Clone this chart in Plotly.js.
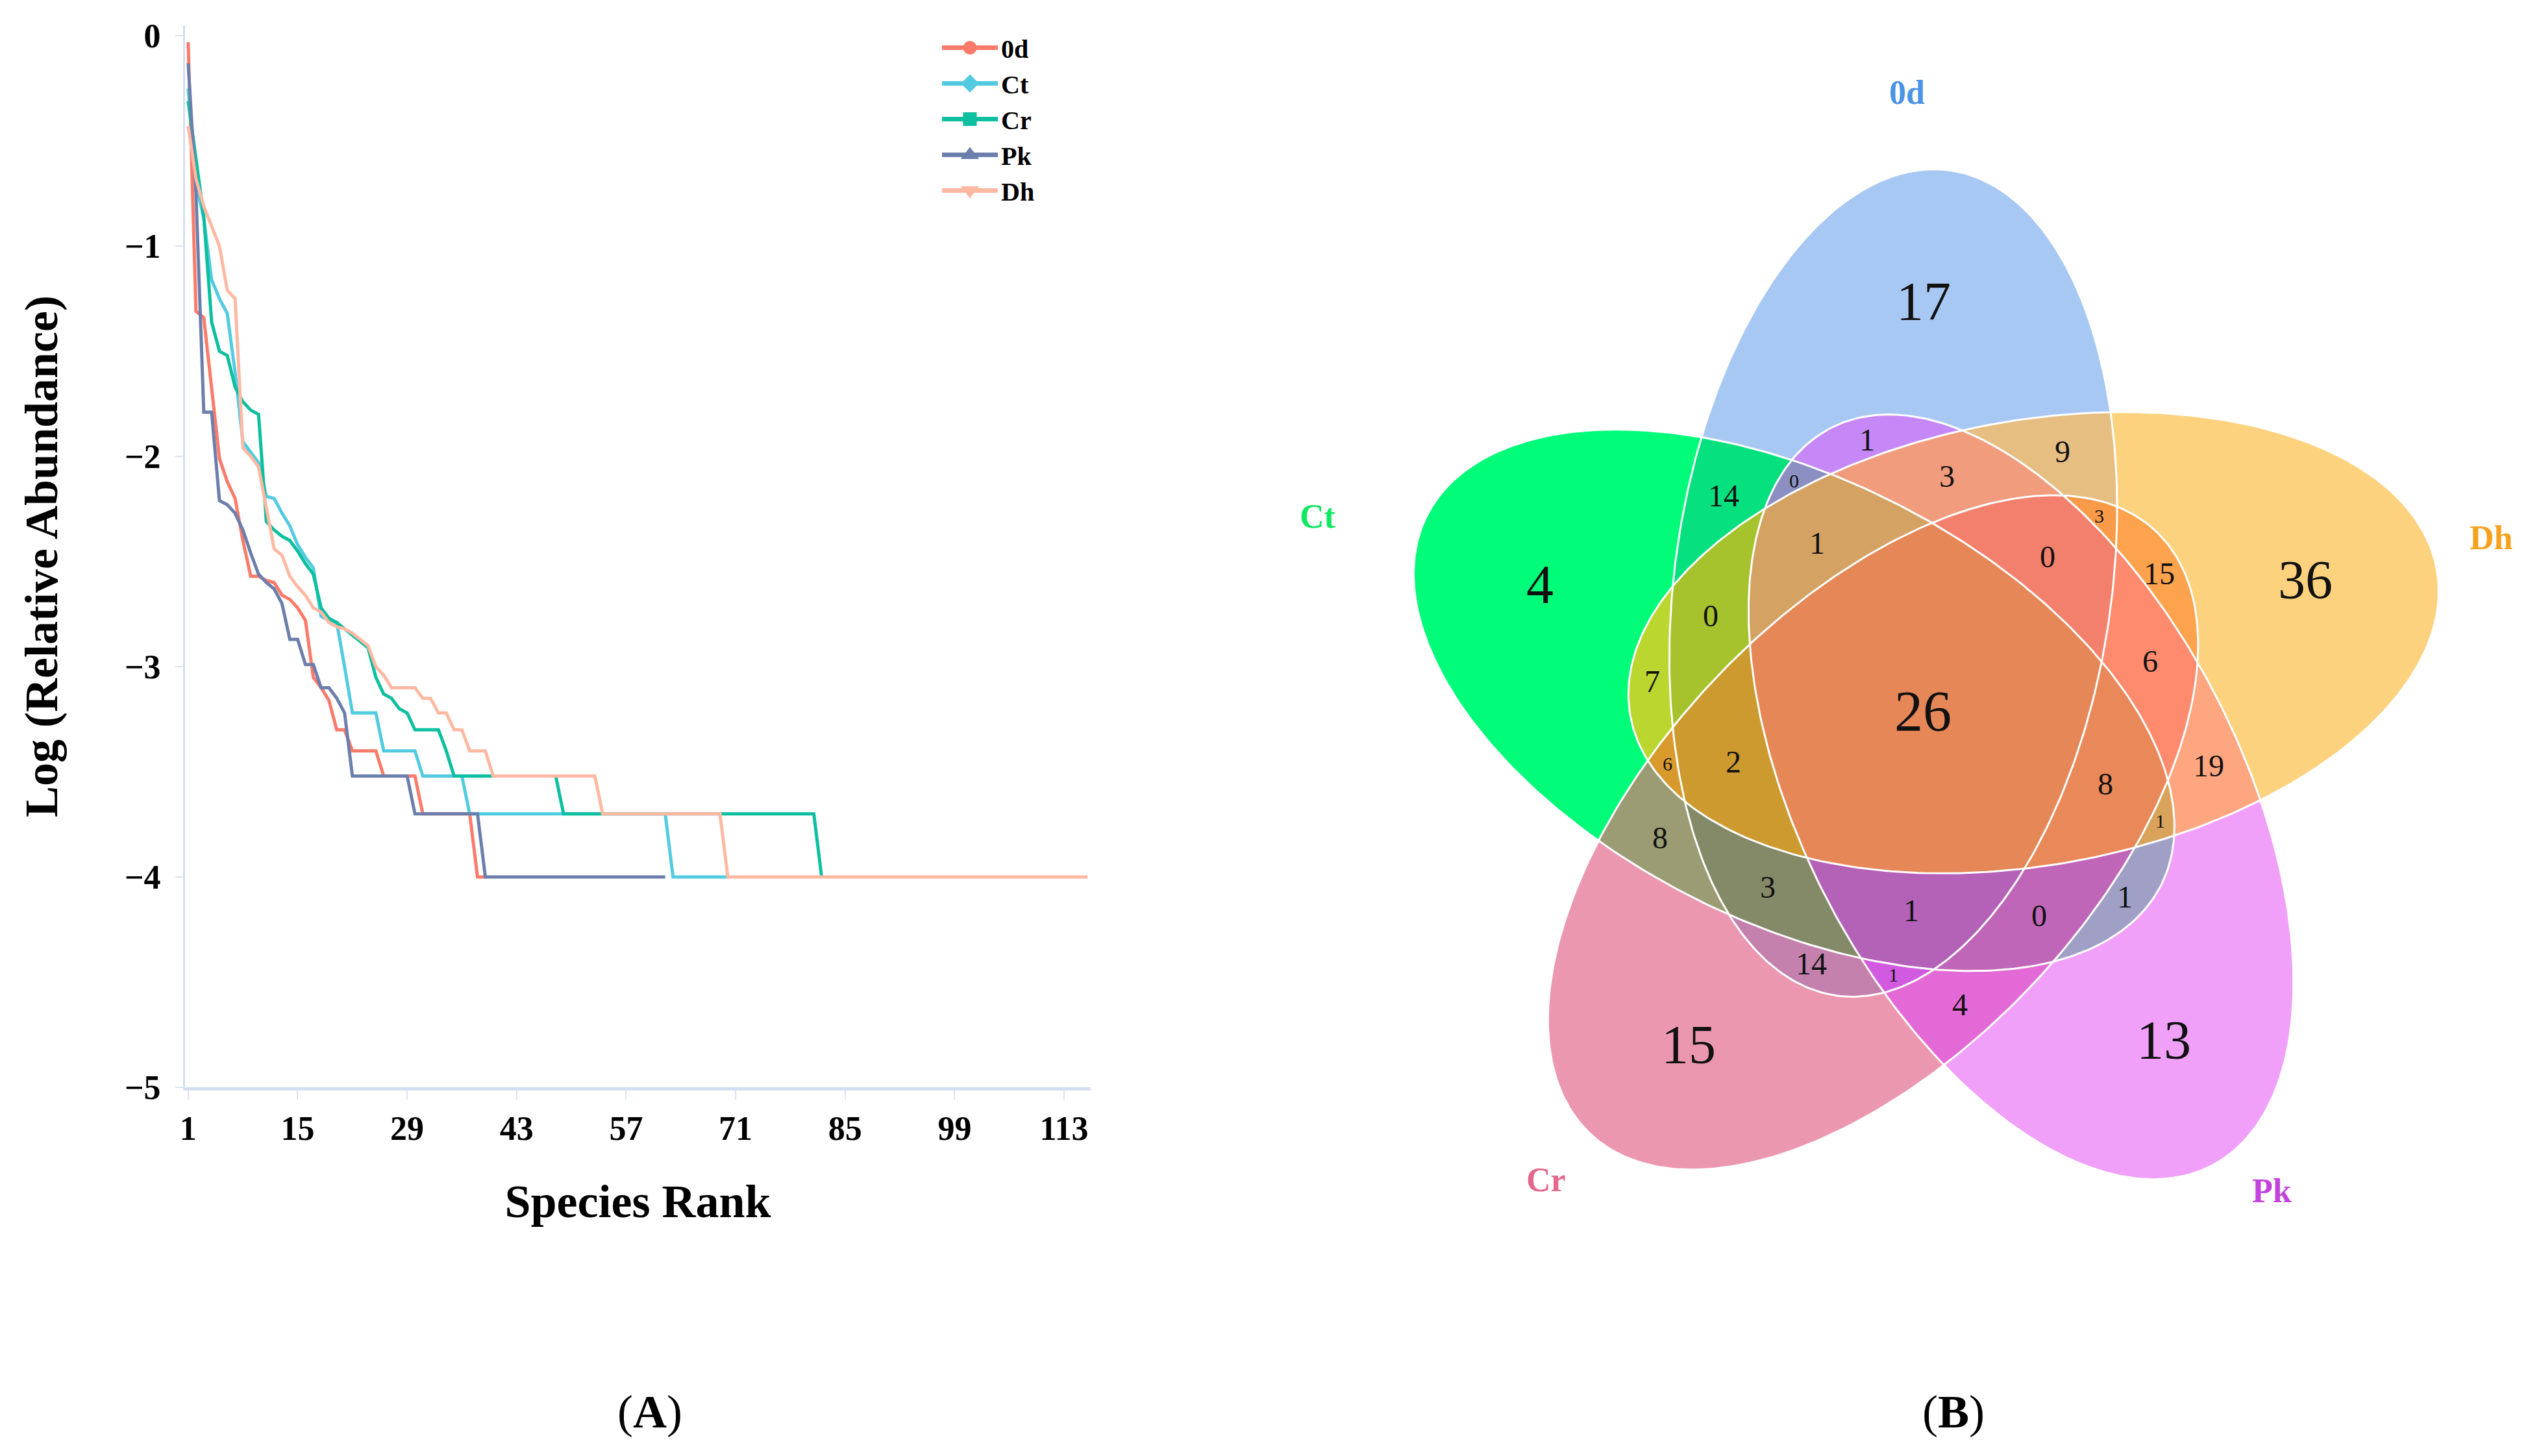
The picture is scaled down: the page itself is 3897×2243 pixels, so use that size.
<!DOCTYPE html>
<html>
<head>
<meta charset="utf-8">
<script src="https://cdn.plot.ly/plotly-3.0.1.min.js"></script>
<style>
html,body{margin:0;padding:0;background:#ffffff;}
#chart{width:3897px;height:2243px;}
</style>
</head>
<body>
<div id="chart"></div>
<script>
// ================= DATA =================
// Panel A: rank-abundance curves, Log10(relative abundance) by species rank
const seriesNames = ['0d', 'Ct', 'Cr', 'Pk', 'Dh'];
const rankTicks = [1, 15, 29, 43, 57, 71, 85, 99, 113];
const yTicks = [0, -1, -2, -3, -4, -5];

const log0d = [-0.03, -1.31, -1.34, -1.66, -2.01, -2.12, -2.2, -2.4, -2.57, -2.57,
  -2.59, -2.6, -2.66, -2.68, -2.72, -2.78, -3.05, -3.1, -3.16, -3.3,
  -3.3, -3.4, -3.4, -3.4, -3.4, -3.52, -3.52, -3.52, -3.52, -3.52,
  -3.7, -3.7, -3.7, -3.7, -3.7, -3.7, -3.7, -4, -4];

const logCt = [-0.25, -0.7, -0.87, -1.16, -1.25, -1.32, -1.6, -1.93, -1.98, -2.03,
  -2.19, -2.2, -2.27, -2.33, -2.42, -2.48, -2.53, -2.76, -2.78, -2.79,
  -3.0, -3.22, -3.22, -3.22, -3.22, -3.4, -3.4, -3.4, -3.4, -3.4,
  -3.52, -3.52, -3.52, -3.52, -3.52, -3.52, -3.7, -3.7, -3.7, -3.7,
  -3.7, -3.7, -3.7, -3.7, -3.7, -3.7, -3.7, -3.7, -3.7, -3.7,
  -3.7, -3.7, -3.7, -3.7, -3.7, -3.7, -3.7, -3.7, -3.7, -3.7,
  -3.7, -3.7, -4, -4, -4, -4, -4, -4, -4, -4];

const logCr = [-0.31, -0.58, -0.86, -1.36, -1.5, -1.52, -1.67, -1.74, -1.78, -1.8,
  -2.31, -2.35, -2.38, -2.4, -2.45, -2.51, -2.56, -2.72, -2.77, -2.79,
  -2.82, -2.85, -2.88, -2.91, -3.05, -3.13, -3.15, -3.2, -3.22, -3.3,
  -3.3, -3.3, -3.3, -3.4, -3.52, -3.52, -3.52, -3.52, -3.52, -3.52,
  -3.52, -3.52, -3.52, -3.52, -3.52, -3.52, -3.52, -3.52, -3.7, -3.7,
  -3.7, -3.7, -3.7, -3.7, -3.7, -3.7, -3.7, -3.7, -3.7, -3.7,
  -3.7, -3.7, -3.7, -3.7, -3.7, -3.7, -3.7, -3.7, -3.7, -3.7,
  -3.7, -3.7, -3.7, -3.7, -3.7, -3.7, -3.7, -3.7, -3.7, -3.7,
  -3.7, -4];

const logPk = [-0.13, -0.75, -1.79, -1.79, -2.21, -2.23, -2.27, -2.35, -2.46, -2.56,
  -2.6, -2.63, -2.7, -2.87, -2.87, -2.99, -2.99, -3.1, -3.1, -3.15,
  -3.22, -3.52, -3.52, -3.52, -3.52, -3.52, -3.52, -3.52, -3.52, -3.7,
  -3.7, -3.7, -3.7, -3.7, -3.7, -3.7, -3.7, -3.7, -4, -4,
  -4, -4, -4, -4, -4, -4, -4, -4, -4, -4,
  -4, -4, -4, -4, -4, -4, -4, -4, -4, -4,
  -4, -4];

const logDh = [-0.43, -0.68, -0.81, -0.9, -1.0, -1.21, -1.25, -1.96, -2.0, -2.05,
  -2.24, -2.44, -2.47, -2.57, -2.62, -2.66, -2.72, -2.74, -2.79, -2.81,
  -2.82, -2.84, -2.87, -2.9, -3.0, -3.04, -3.1, -3.1, -3.1, -3.1,
  -3.15, -3.15, -3.22, -3.22, -3.3, -3.3, -3.4, -3.4, -3.4, -3.52,
  -3.52, -3.52, -3.52, -3.52, -3.52, -3.52, -3.52, -3.52, -3.52, -3.52,
  -3.52, -3.52, -3.52, -3.7, -3.7, -3.7, -3.7, -3.7, -3.7, -3.7,
  -3.7, -3.7, -3.7, -3.7, -3.7, -3.7, -3.7, -3.7, -3.7, -4,
  -4, -4, -4, -4, -4, -4, -4, -4, -4, -4,
  -4, -4, -4, -4, -4, -4, -4, -4, -4, -4,
  -4, -4, -4, -4, -4, -4, -4, -4, -4, -4,
  -4, -4, -4, -4, -4, -4, -4, -4, -4, -4,
  -4, -4, -4, -4, -4, -4];

// Panel B: Venn diagram (sets and exclusive region counts)
const vennSets = ['0d', 'Dh', 'Pk', 'Cr', 'Ct'];
const vennRegions = ['0d', 'Dh', 'Pk', 'Cr', 'Ct',
  '0d,Dh', 'Dh,Pk', 'Pk,Cr', 'Cr,Ct', '0d,Ct',
  '0d,Pk', 'Dh,Cr', 'Pk,Ct', '0d,Cr', 'Dh,Ct',
  '0d,Dh,Pk', 'Dh,Pk,Cr', 'Pk,Cr,Ct', '0d,Cr,Ct', '0d,Dh,Ct',
  '0d,Pk,Ct', '0d,Dh,Cr', 'Dh,Pk,Ct', '0d,Pk,Cr', 'Dh,Cr,Ct',
  '0d,Dh,Pk,Ct', '0d,Dh,Pk,Cr', 'Dh,Pk,Cr,Ct', '0d,Pk,Cr,Ct', '0d,Dh,Cr,Ct',
  '0d,Dh,Pk,Cr,Ct'];
const vennCounts = [17, 36, 13, 15, 4,
  9, 19, 4, 8, 14,
  1, 15, 1, 14, 7,
  3, 6, 0, 3, 0,
  0, 3, 1, 1, 6,
  1, 0, 8, 1, 2,
  26];

// ================= STYLE =================
const W = 3897, H = 2243;
const SERIF = 'Liberation Serif, Times New Roman, serif';
const seriesColors = ['#fb7a69', '#52cbe1', '#0cbf9f', '#6c7fac', '#ffb9a3'];
const seriesSymbols = ['circle', 'diamond', 'square', 'triangle-up', 'triangle-down'];
const seriesValues = [log0d, logCt, logCr, logPk, logDh];

const vennRegionColors = ['#a8c8f4', '#fdd27e', '#f0a0f9', '#eb97b0', '#00fc78',
  '#e6be82', '#fda680', '#e36ad6', '#9b9b74', '#06e07e',
  '#c688f6', '#fea34d', '#a0a0c6', '#c481ae', '#bcd630',
  '#f19c7d', '#ff8b6e', '#c066b8', '#848a68', '#a6c22c',
  '#8c8fc2', '#f89a48', '#d9a35c', '#d25ae0', '#d89a2c',
  '#d4a262', '#f3806c', '#e98858', '#b462b8', '#cd9a30',
  '#e68757'];
const vennSetColors = ['#4b93e6', '#f7a21e', '#c244de', '#e4688c', '#12e862'];
// set-label anchor positions (px on the Venn axes)
const vennSetLabelPos = [[2937, 142], [3837, 828], [3499, 1834], [2381, 1817], [2030, 795]];
// ellipse geometry (px): symmetry centre, offset of first ellipse centre, semi-axes, tilt, horizontal squeeze
const VG = {ox: 2962, oy: 1095.4, offX: -46.6, offY: -197.3, a: 641.8, b: 342.6, tilt: 8, sx: 0.983};

// ================= PANEL A TRACES =================
const traces = [];
seriesNames.forEach((name, k) => {
  const vals = seriesValues[k];
  traces.push({
    type: 'scatter', mode: 'lines', name: name,
    x: vals.map((v, i) => i + 1), y: vals,
    line: {color: seriesColors[k], width: 5},
    showlegend: false, hoverinfo: 'skip', xaxis: 'x', yaxis: 'y'
  });
});
// legend entries
seriesNames.forEach((name, k) => {
  traces.push({
    type: 'scatter', mode: 'lines+markers', name: name,
    x: [null], y: [null], legendgroup: 'g' + k,
    line: {color: seriesColors[k], width: 7},
    marker: {color: seriesColors[k], size: 16, symbol: seriesSymbols[k],
      line: {color: seriesColors[k], width: 5}},
    showlegend: true, hoverinfo: 'skip', xaxis: 'x', yaxis: 'y'
  });
});

// ================= PANEL B (VENN) =================
const ellipses = vennSets.map((s, i) => {
  const th = i * 72 * Math.PI / 180;
  const c = Math.cos(th), sn = Math.sin(th);
  const rot = (x, y) => [x * c - y * sn, x * sn + y * c];
  const off = rot(VG.offX, VG.offY);
  const t = VG.tilt * Math.PI / 180;
  const u = rot(Math.sin(t), -Math.cos(t));
  return {cx: VG.ox + off[0], cy: VG.oy + off[1], ux: u[0], uy: u[1], vx: -u[1], vy: u[0], a: VG.a, b: VG.b};
});
function local(e, x, y) {
  const mx = VG.ox + (x - VG.ox) / VG.sx;
  const dx = mx - e.cx, dy = y - e.cy;
  return [dx * e.ux + dy * e.uy, dx * e.vx + dy * e.vy];
}
function membership(x, y) {
  let m = 0;
  ellipses.forEach((e, i) => {
    const p = local(e, x, y);
    if ((p[0] * p[0]) / (e.a * e.a) + (p[1] * p[1]) / (e.b * e.b) <= 1) m |= (1 << i);
  });
  return m;
}
function boundaryDist(e, x, y) {
  const p = local(e, x, y);
  const F = (p[0] * p[0]) / (e.a * e.a) + (p[1] * p[1]) / (e.b * e.b) - 1;
  const g = Math.hypot(2 * p[0] / (e.a * e.a), 2 * p[1] / (e.b * e.b));
  return g > 0 ? Math.min(Math.abs(F) / g, e.b) : e.b;
}
function minDist(x, y) {
  let d = Infinity;
  ellipses.forEach(e => { d = Math.min(d, boundaryDist(e, x, y)); });
  return d;
}
const regionBits = vennRegions.map(r => r.split(',').reduce((m, s) => m | (1 << vennSets.indexOf(s)), 0));
const codeToIdx = {};
regionBits.forEach((b, k) => { codeToIdx[b] = k; });

// raster of region membership (each cell coloured by its region)
const HX0 = 2160, HX1 = 3800, HY0 = 230, HY1 = 1840, HS = 2;
const nx = Math.round((HX1 - HX0) / HS), ny = Math.round((HY1 - HY0) / HS);
const zv = [];
for (let j = 0; j < ny; j++) {
  const y = HY0 + HS * (j + 0.5);
  const row = new Array(nx);
  for (let i = 0; i < nx; i++) {
    const x = HX0 + HS * (i + 0.5);
    const m = membership(x, y);
    row[i] = m ? codeToIdx[m] + 1 : null;
  }
  zv.push(row);
}
const nReg = vennRegions.length;
const cscale = [];
vennRegionColors.forEach((c, k) => { cscale.push([k / nReg, c]); cscale.push([(k + 1) / nReg, c]); });
traces.push({
  type: 'heatmap', z: zv, x0: HX0 + HS / 2, dx: HS, y0: HY0 + HS / 2, dy: HS,
  xaxis: 'x2', yaxis: 'y2', zmin: 0.5, zmax: nReg + 0.5, colorscale: cscale,
  showscale: false, hoverinfo: 'skip', zsmooth: false
});
// white outlines
ellipses.forEach(e => {
  const xs = [], ys = [];
  for (let k = 0; k <= 360; k++) {
    const t = k * Math.PI / 180;
    const mx = e.cx + e.a * Math.cos(t) * e.ux + e.b * Math.sin(t) * e.vx;
    xs.push(VG.ox + (mx - VG.ox) * VG.sx);
    ys.push(e.cy + e.a * Math.cos(t) * e.uy + e.b * Math.sin(t) * e.vy);
  }
  traces.push({type: 'scatter', mode: 'lines', x: xs, y: ys, xaxis: 'x2', yaxis: 'y2',
    line: {color: '#ffffff', width: 3}, showlegend: false, hoverinfo: 'skip'});
});

// label position of each region: centroid when it lies well inside, else most interior point
const best = {}, sums = {};
for (let y = HY0; y < HY1; y += 4) {
  for (let x = HX0; x < HX1; x += 4) {
    const m = membership(x, y);
    if (!m) continue;
    const d = minDist(x, y);
    if (!best[m] || d > best[m].d) best[m] = {x: x, y: y, d: d};
    if (!sums[m]) sums[m] = {x: 0, y: 0, n: 0};
    sums[m].x += x; sums[m].y += y; sums[m].n += 1;
  }
}
function popcount(bits) { let n = 0; for (let i = 0; i < 5; i++) if (bits & (1 << i)) n++; return n; }
function labelPos(bits) {
  const p = best[bits], s = sums[bits];
  if (!p) return null;
  const cx = s.x / s.n, cy = s.y / s.n;
  if (popcount(bits) === 1) return [0.4 * p.x + 0.6 * cx, 0.4 * p.y + 0.6 * cy];
  if (membership(cx, cy) === bits && minDist(cx, cy) >= 0.5 * p.d) return [cx, cy];
  return [p.x, p.y];
}
function isConsecutive(bits) {
  for (let s = 0; s < 5; s++) {
    const m = (1 << s) | (1 << ((s + 1) % 5)) | (1 << ((s + 2) % 5));
    if (m === bits) return true;
  }
  return false;
}
const annotations = [];
regionBits.forEach((bits, k) => {
  const p = labelPos(bits);
  if (!p) return;
  const n = popcount(bits);
  let size = 48;
  if (n === 1) size = 84;
  else if (n === 5) size = 88;
  else if (n === 3 && !isConsecutive(bits)) size = 30;
  annotations.push({xref: 'x2', yref: 'y2', x: p[0], y: p[1], text: String(vennCounts[k]),
    xanchor: 'center', yanchor: 'middle',
    showarrow: false, font: {family: SERIF, size: size, color: '#111111'}});
});
vennSets.forEach((s, i) => {
  annotations.push({xref: 'x2', yref: 'y2', x: vennSetLabelPos[i][0], y: vennSetLabelPos[i][1],
    xanchor: 'center', yanchor: 'middle',
    text: '<b>' + s + '</b>', showarrow: false, font: {family: SERIF, size: 52, color: vennSetColors[i]}});
});
annotations.push({xref: 'paper', yref: 'paper', x: 1001 / W, y: 1 - 2175 / H, text: '(<b>A</b>)',
  xanchor: 'center', yanchor: 'middle', showarrow: false, font: {family: SERIF, size: 72, color: '#000'}});
annotations.push({xref: 'paper', yref: 'paper', x: 3009 / W, y: 1 - 2175 / H, text: '(<b>B</b>)',
  xanchor: 'center', yanchor: 'middle', showarrow: false, font: {family: SERIF, size: 72, color: '#000'}});

// ================= LAYOUT =================
const axisLine = '#d5def0';
const layout = {
  width: W, height: H,
  margin: {l: 0, r: 0, t: 0, b: 0},
  paper_bgcolor: '#ffffff', plot_bgcolor: 'rgba(0,0,0,0)',
  showlegend: true,
  legend: {x: 1446 / W, y: 1 - 41 / H, xanchor: 'left', yanchor: 'top',
    font: {family: SERIF, size: 40, color: '#000', weight: 'bold'},
    itemwidth: 86, tracegroupgap: 0, bgcolor: 'rgba(0,0,0,0)', borderwidth: 0},
  xaxis: {
    domain: [285 / W, 1680 / W], range: [0.6, 116.4], anchor: 'y',
    tickmode: 'array', tickvals: rankTicks, ticktext: rankTicks.map(String),
    ticks: 'outside', ticklen: 14, tickwidth: 2, tickcolor: '#dbe3f1',
    showline: true, linecolor: axisLine, linewidth: 5,
    showgrid: false, zeroline: false, fixedrange: true,
    tickfont: {family: SERIF, size: 52, color: '#000', weight: 'bold'},
    title: {text: 'Species Rank', font: {family: SERIF, size: 72, color: '#000', weight: 'bold'}, standoff: 60}
  },
  yaxis: {
    domain: [1 - 1675 / H, 1 - 39 / H], range: [-5, 0.05], anchor: 'x',
    tickmode: 'array', tickvals: yTicks,
    ticks: 'outside', ticklen: 12, tickwidth: 2, tickcolor: '#dbe3f1',
    showline: true, linecolor: axisLine, linewidth: 3,
    showgrid: false, zeroline: false, fixedrange: true,
    tickfont: {family: SERIF, size: 52, color: '#000', weight: 'bold'},
    ticklabelstandoff: 12,
    title: {text: 'Log (Relative Abundance)', font: {family: SERIF, size: 72, color: '#000', weight: 'bold'}, standoff: 80}
  },
  xaxis2: {domain: [0.5, 1], range: [W / 2, W], anchor: 'y2', visible: false, fixedrange: true},
  yaxis2: {domain: [0, 1], range: [H, 0], anchor: 'x2', visible: false, fixedrange: true},
  annotations: annotations
};

Plotly.newPlot('chart', traces, layout, {staticPlot: true, displayModeBar: false});
</script>
</body>
</html>
